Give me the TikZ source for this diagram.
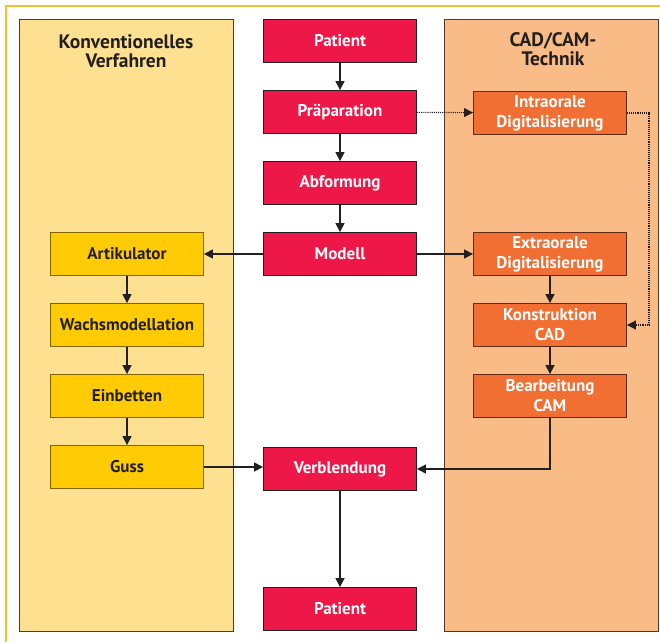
\documentclass[tikz,border=0pt]{standalone}
\usepackage{fontspec}
\setmainfont{PT Sans}
\usetikzlibrary{arrows.meta,positioning}

\definecolor{boxred}{HTML}{ED1848}
\definecolor{boxgold}{HTML}{FFCB05}
\definecolor{boxorange}{HTML}{F26F33}
\definecolor{panelyellow}{HTML}{FDE190}
\definecolor{panelorange}{HTML}{F9BC86}
\definecolor{framegold}{HTML}{F2C12E}
\definecolor{inkdark}{HTML}{231F20}

\begin{document}
\begin{tikzpicture}[x=1pt, y=-1pt, >={Triangle[length=9pt,width=9pt]}, line join=miter]

% ------------------------------------------------
% Styles
% ------------------------------------------------
\tikzset{
    panel/.style={draw=black!55!brown, line width=0.7pt},
    stepbase/.style={draw=inkdark, line width=0.9pt, minimum width=153pt, minimum height=43pt,
        inner sep=1pt, align=center, font=\bfseries\fontsize{17}{20}\selectfont},
    mainbox/.style={stepbase, fill=boxred, text=white},
    convbox/.style={stepbase, fill=boxgold, draw=black!50!boxgold, text=inkdark},
    cadbox/.style={stepbase, fill=boxorange, draw=black!60!boxorange, text=white},
    title/.style={align=center, text=inkdark, font=\bfseries\fontsize{19.5}{19}\selectfont},
    flow/.style={->, line width=1.6pt, inkdark},
    dotflow/.style={->, line width=1.1pt, inkdark, densely dotted},
}

\useasboundingbox (0,0) rectangle (660,642);

% ------------------------------------------------
% Frame and panels
% ------------------------------------------------
\draw[framegold, line width=2.4pt] (6,642) -- (6,6) -- (660,6);

\draw[panel, fill=panelyellow] (19,19) rectangle (233,631);
\draw[panel, fill=panelorange] (444,19) rectangle (658,631);

\node[title] (convtitle) at (126,51) {Konventionelles\\Verfahren};
\node[title] (cadtitle) at (553,49) {CAD/CAM-\\Technik};

% ------------------------------------------------
% Main column
% ------------------------------------------------
\node[mainbox] (pat1) at (340,41)  {Patient};
\node[mainbox] (prep) at (340,112) {Präparation};
\node[mainbox] (abf)  at (340,183) {Abformung};
\node[mainbox] (mod)  at (340,254) {Modell};
\node[mainbox] (verb) at (340,469) {Verblendung};
\node[mainbox] (pat2) at (340,609) {Patient};

% ------------------------------------------------
% Conventional column
% ------------------------------------------------
\node[convbox] (art)   at (127,254) {Artikulator};
\node[convbox] (wachs) at (127,325) {Wachsmodellation};
\node[convbox] (einb)  at (127,396) {Einbetten};
\node[convbox] (guss)  at (127,467) {Guss};

% ------------------------------------------------
% CAD/CAM column
% ------------------------------------------------
\node[cadbox] (intra) at (550,113) {Intraorale\\Digitalisierung};
\node[cadbox] (extra) at (550,254) {Extraorale\\Digitalisierung};
\node[cadbox] (konst) at (550,325) {Konstruktion\\CAD};
\node[cadbox] (bearb) at (550,396) {Bearbeitung\\CAM};

% ------------------------------------------------
% Connectors
% ------------------------------------------------
\draw[flow] (pat1) -- (prep);
\draw[flow] (prep) -- (abf);
\draw[flow] (abf) -- (mod);
\draw[flow] (mod) -- (art);
\draw[flow] (mod) -- (extra);

\draw[flow] (art) -- (wachs);
\draw[flow] (wachs) -- (einb);
\draw[flow] (einb) -- (guss);
\draw[flow] (guss.east) -- (guss.east -| verb.west);

\draw[flow] (extra) -- (konst);
\draw[flow] (konst) -- (bearb);
\draw[flow, line width=1.1pt] (bearb.south) |- (verb.east);

\draw[flow] (verb) -- (pat2);

% dotted path via intraoral scan
\draw[dotflow] (prep) -- (intra);
\draw[dotflow] (intra.east) -- ++(22,0) |- (konst.east);

\end{tikzpicture}
\end{document}
